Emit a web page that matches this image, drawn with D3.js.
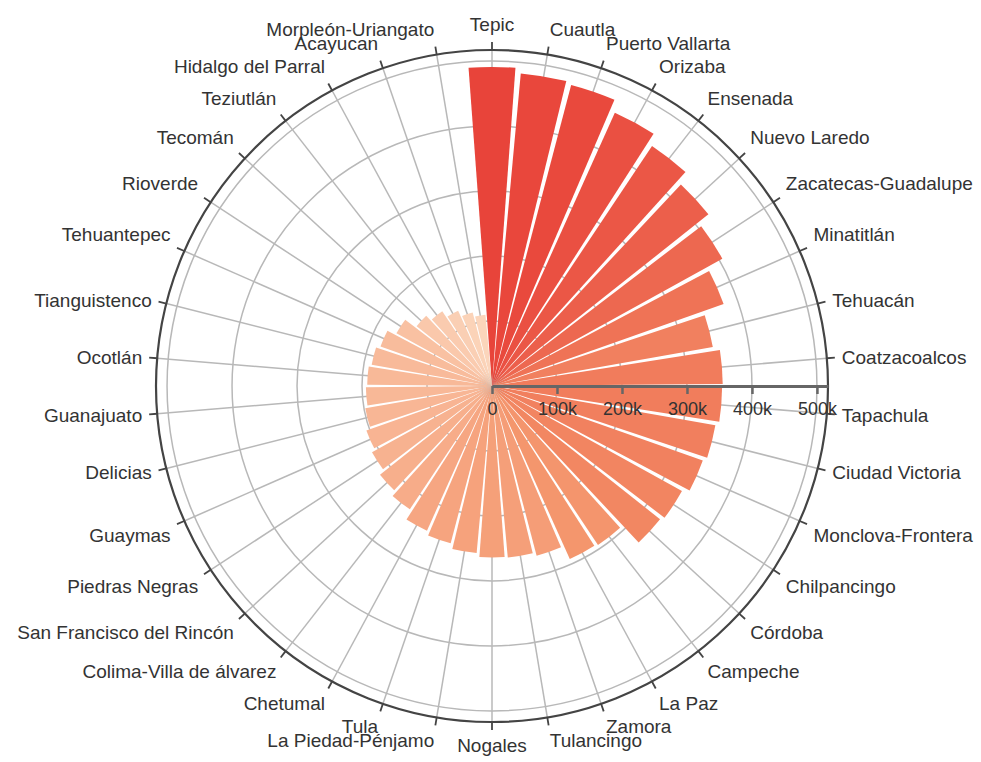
<!DOCTYPE html>
<html>
<head>
<meta charset="utf-8">
<script src="https://cdn.jsdelivr.net/npm/d3@7"></script>
<style>
  html, body { margin: 0; padding: 0; background: #fff; }
  svg { display: block; }
  text { font-family: "Liberation Sans", Arial, sans-serif; }
</style>
</head>
<body>
<svg id="chart" width="981" height="762"></svg>
<script>
// ---- data ----
const cities = ["Tepic","Cuautla","Puerto Vallarta","Orizaba","Ensenada","Nuevo Laredo",
  "Zacatecas-Guadalupe","Minatitlán","Tehuacán","Coatzacoalcos","Tapachula","Ciudad Victoria",
  "Monclova-Frontera","Chilpancingo","Córdoba","Campeche","La Paz","Zamora","Tulancingo",
  "Nogales","La Piedad-Pénjamo","Tula","Chetumal","Colima-Villa de álvarez",
  "San Francisco del Rincón","Piedras Negras","Guaymas","Delicias","Guanajuato","Ocotlán",
  "Tianguistenco","Tehuantepec","Rioverde","Tecomán","Teziutlán","Hidalgo del Parral",
  "Acayucan","Morpleón-Uriangato"];
const population = [491000,483000,479000,461000,444000,425000,
  405000,378000,345000,355000,354000,349000,
  344000,334000,330000,294000,292000,270000,265000,
  264000,258000,250000,244000,228000,
  220000,211000,205000,198000,194000,192000,
  188000,182000,168000,148000,138000,127000,
  117000,110000];
const radiusTicks = [0,100000,200000,300000,400000,500000];
const radiusTickLabels = ["0","100k","200k","300k","400k","500k"];
const colorStops = [110000, 300000, 491000];
const colorRange = ["#fbd5bb", "#f4936a", "#e8443a"];

// ---- layout ----
const cx = 492, cy = 386, R = 336;
const svg = d3.select("#chart");
const n = cities.length;
const step = 2 * Math.PI / n;

const angle = d3.scaleBand().domain(cities)
  .range([-step / 2, 2 * Math.PI - step / 2])
  .paddingInner(0.11).paddingOuter(0.055);
const r = d3.scaleLinear().domain([0, 517000]).range([0, R]);
const color = d3.scaleLinear().domain(colorStops).range(colorRange);

const center = a => a + angle.bandwidth() / 2;
const g = svg.append("g").attr("transform", `translate(${cx},${cy})`);

// split lines: circles
g.append("g").selectAll("circle").data(radiusTicks.slice(1)).join("circle")
  .attr("r", d => r(d)).attr("fill", "none")
  .attr("stroke", "#b8b8b8").attr("stroke-width", 1.5);
// split lines: spokes
g.append("g").selectAll("line").data(cities).join("line")
  .attr("x1", 0).attr("y1", 0)
  .attr("x2", d => R * Math.sin(center(angle(d))))
  .attr("y2", d => -R * Math.cos(center(angle(d))))
  .attr("stroke", "#b8b8b8").attr("stroke-width", 1.5);

// bars
const arc = d3.arc().innerRadius(0)
  .startAngle(d => angle(d.city))
  .endAngle(d => angle(d.city) + angle.bandwidth())
  .outerRadius(d => r(d.value));
g.append("g").selectAll("path")
  .data(cities.map((c, i) => ({city: c, value: population[i]})))
  .join("path")
  .attr("d", arc)
  .attr("fill", d => color(d.value));

// outer circle (angle axis line)
g.append("circle").attr("r", R).attr("fill", "none")
  .attr("stroke", "#444").attr("stroke-width", 2.2);
// angle ticks
g.append("g").selectAll("line").data(cities).join("line")
  .attr("x1", d => R * Math.sin(center(angle(d))))
  .attr("y1", d => -R * Math.cos(center(angle(d))))
  .attr("x2", d => (R + 8) * Math.sin(center(angle(d))))
  .attr("y2", d => -(R + 8) * Math.cos(center(angle(d))))
  .attr("stroke", "#444").attr("stroke-width", 1.8);
// angle labels
const LR = R + 15;
g.append("g").selectAll("text").data(cities).join("text")
  .attr("x", d => LR * Math.sin(center(angle(d))))
  .attr("y", d => -LR * Math.cos(center(angle(d))))
  .attr("text-anchor", d => {
    const s = Math.sin(center(angle(d)));
    return Math.abs(s) < 0.01 ? "middle" : (s > 0 ? "start" : "end");
  })
  .attr("dy", d => {
    const c = Math.cos(center(angle(d)));
    return Math.abs(c) < 0.3 ? "0.35em" : (c > 0 ? "-0.22em" : "0.78em");
  })
  .attr("font-size", 19).attr("fill", "#333")
  .text(d => d);

// radius axis
const rAxis = d3.axisBottom(r).tickValues(radiusTicks)
  .tickFormat((d, i) => radiusTickLabels[i])
  .tickSize(8).tickSizeOuter(0).tickPadding(8);
const ra = g.append("g").call(rAxis);
ra.select(".domain").attr("stroke", "#666").attr("stroke-width", 3);
ra.selectAll(".tick line").attr("stroke", "#666").attr("stroke-width", 2.5);
ra.selectAll(".tick text").attr("font-size", 18).attr("fill", "#333")
  .attr("font-family", "Liberation Sans, Arial, sans-serif");
</script>
</body>
</html>
